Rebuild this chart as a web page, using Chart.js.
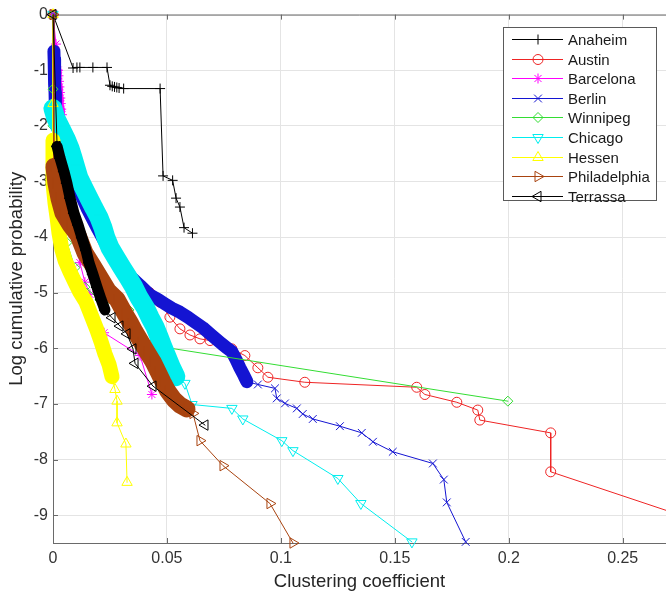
<!DOCTYPE html>
<html>
<head>
  <title>Clustering coefficient distribution</title>
  <script src="https://cdn.jsdelivr.net/npm/chart.js"></script>
  <style>
    body {
      margin: 0;
      background: #fff;
    }

    #chartContainer {
      width: 666px;
      height: 597px;
    }
  </style>
</head>
<body>
  <div id="chartContainer">
    <canvas id="myChart" width="666" height="597"></canvas>
  </div>

  <script>
    const cities = ['Anaheim', 'Austin', 'Barcelona', 'Berlin', 'Winnipeg', 'Chicago', 'Hessen', 'Philadelphia', 'Terrassa'];

    // [clustering coefficient, log cumulative probability]
    const anaheim = [[0, 0], [0.0088, -0.96], [0.0105, -0.95], [0.0118, -0.95], [0.0175, -0.95], [0.0237, -0.95],
      [0.025, -1.27], [0.026, -1.29], [0.027, -1.30], [0.028, -1.31], [0.029, -1.32], [0.031, -1.33], [0.047, -1.33],
      [0.0483, -2.9], [0.0525, -2.98], [0.054, -3.3], [0.0557, -3.46], [0.0575, -3.83], [0.0612, -3.93]];
    const austin = [[0, 0], [0.0005, -0.8], [0.0009, -1.4], [0.0048, -2.41], [0.011, -3.12], [0.0193, -3.83],
      [0.0272, -4.37], [0.0342, -4.72], [0.0425, -5.0], [0.0469, -5.17], [0.0513, -5.44], [0.0557, -5.65], [0.0601, -5.76],
      [0.0645, -5.83], [0.0689, -5.86], [0.0732, -5.88], [0.0785, -6.01], [0.0842, -6.13], [0.0899, -6.35], [0.0943, -6.52],
      [0.1105, -6.61], [0.1596, -6.70], [0.1632, -6.83], [0.1772, -6.97], [0.1864, -7.11], [0.1873, -7.29], [0.2184, -7.52],
      [0.2184, -8.22], [0.29, -9.2]];
    const barcelona = [[0, 0], [0.0013, -0.53], [0.0022, -1.0], [0.0024, -1.1], [0.0026, -1.2], [0.0028, -1.3], [0.003, -1.4],
      [0.0032, -1.5], [0.0034, -1.6], [0.0036, -1.7], [0.0039, -1.8], [0.0048, -2.32], [0.0061, -2.85], [0.0075, -3.39],
      [0.0092, -3.92], [0.0118, -4.46], [0.014, -4.81], [0.0162, -5.03], [0.0224, -5.72], [0.0382, -6.13], [0.0434, -6.83]];
    const berlin = [[0, 0], [0.0004, -0.66], [0.0005, -0.80], [0.0006, -0.95], [0.0007, -1.10], [0.0008, -1.25], [0.0009, -1.40],
      [0.001, -1.55], [0.0011, -1.70], [0.0022, -2.05], [0.0048, -2.41], [0.0075, -2.76], [0.011, -3.12], [0.0149, -3.48],
      [0.0193, -3.83], [0.0241, -4.19], [0.0272, -4.37], [0.0303, -4.55], [0.0342, -4.72], [0.0382, -4.87], [0.0425, -5.04],
      [0.0461, -5.12], [0.0491, -5.20], [0.0522, -5.28], [0.0557, -5.35], [0.0592, -5.44], [0.0623, -5.53], [0.0658, -5.63],
      [0.0689, -5.74], [0.0715, -5.83], [0.0741, -5.92], [0.0763, -5.99], [0.0785, -6.06], [0.0803, -6.20], [0.082, -6.35],
      [0.0838, -6.49], [0.0851, -6.60], [0.0899, -6.65], [0.0974, -6.72], [0.0982, -6.90], [0.1018, -6.99], [0.107, -7.08],
      [0.1096, -7.18], [0.114, -7.27], [0.1259, -7.40], [0.1355, -7.52], [0.1404, -7.68], [0.1491, -7.86], [0.1667, -8.07],
      [0.1715, -8.36], [0.1728, -8.77], [0.1811, -9.48]];
    const winnipeg = [[0, 0], [0, -1.34], [0, -2.0], [0.0009, -2.5], [0.0022, -3.03], [0.0039, -3.57], [0.0061, -4.10],
      [0.0096, -4.55], [0.014, -4.9], [0.0206, -5.13], [0.0333, -5.31], [0.0425, -5.94], [0.1996, -6.95]];
    const chicago = [[0, 0], [0, -1.69], [0.0013, -1.87], [0.0035, -2.05], [0.0057, -2.23], [0.0075, -2.41], [0.0088, -2.58],
      [0.0101, -2.76], [0.0114, -2.94], [0.0136, -3.12], [0.0158, -3.30], [0.018, -3.48], [0.0202, -3.65], [0.0219, -3.83],
      [0.0232, -4.01], [0.025, -4.19], [0.0276, -4.37], [0.0303, -4.55], [0.0329, -4.72], [0.0355, -4.90], [0.0377, -5.08],
      [0.0404, -5.26], [0.0425, -5.44], [0.0447, -5.61], [0.0465, -5.79], [0.0482, -5.97], [0.05, -6.15], [0.0518, -6.33],
      [0.0539, -6.51], [0.0579, -6.63], [0.061, -7.01], [0.0785, -7.08], [0.0833, -7.27], [0.1004, -7.66], [0.1053, -7.84],
      [0.125, -8.34], [0.1351, -8.79], [0.1575, -9.48]];
    const hessen = [[0, 0], [0, -1.6], [0, -2.26], [0, -2.67], [0, -3.03], [0.0009, -3.39], [0.0018, -3.65], [0.0026, -3.92],
      [0.0039, -4.22], [0.0053, -4.42], [0.0075, -4.63], [0.0096, -4.81], [0.0118, -4.99], [0.0145, -5.17], [0.0171, -5.44],
      [0.0193, -5.67], [0.0211, -5.88], [0.0228, -6.10], [0.0246, -6.29], [0.0259, -6.51], [0.0272, -6.74], [0.0281, -6.95],
      [0.0281, -7.34], [0.032, -7.72], [0.0325, -8.41]];
    const philadelphia = [[0, 0], [0.0004, -2.73], [0.0013, -3.03], [0.0026, -3.30], [0.0044, -3.57], [0.0075, -3.78],
      [0.011, -3.97], [0.014, -4.28], [0.0175, -4.51], [0.0206, -4.72], [0.0241, -4.96], [0.0281, -5.12], [0.0316, -5.38],
      [0.0342, -5.56], [0.036, -5.70], [0.0386, -5.88], [0.0412, -6.06], [0.0439, -6.24], [0.0461, -6.42], [0.0482, -6.60],
      [0.0504, -6.77], [0.0531, -6.92], [0.0557, -7.02], [0.0588, -7.09], [0.0614, -7.17], [0.0645, -7.66], [0.0746, -8.11],
      [0.0952, -8.79], [0.1053, -9.50]];
    const terrassa = [[0, 0], [0.0018, -2.37], [0.0031, -2.58], [0.0048, -2.82], [0.0061, -3.03], [0.0075, -3.30],
      [0.0092, -3.57], [0.011, -3.78], [0.0127, -4.01], [0.0145, -4.24], [0.0158, -4.46], [0.0175, -4.67], [0.0193, -4.90],
      [0.0211, -5.12], [0.0228, -5.31], [0.0259, -5.45], [0.0294, -5.60], [0.0325, -5.74], [0.0351, -6.01], [0.036, -6.27],
      [0.0439, -6.68], [0.0667, -7.38]];

    const xTickLabels = ['0', '0.05', '0.1', '0.15', '0.2', '0.25'];
    const yTickLabels = ['-9', '-8', '-7', '-6', '-5', '-4', '-3', '-2', '-1', '0'];

    const seriesData = [anaheim, austin, barcelona, berlin, winnipeg, chicago, hessen, philadelphia, terrassa];

    // band: range of point indexes where hundreds of overlapping markers merge into a solid stroke
    const styles = [
      { color: '#000000', pointStyle: 'cross', rotation: 0, radius: 5, band: [0, 0], bandWidth: 1 },
      { color: '#ee2424', pointStyle: 'circle', rotation: 0, radius: 5, band: [1, 9], bandWidth: 6 },
      { color: '#ff00ff', pointStyle: 'star', rotation: 0, radius: 5, band: [2, 10], bandWidth: 6 },
      { color: '#1414d2', pointStyle: 'crossRot', rotation: 0, radius: 5.5, band: [1, 36], bandWidth: 13 },
      { color: '#33dd33', pointStyle: 'rectRot', rotation: 0, radius: 5, band: [0, 0], bandWidth: 1 },
      { color: '#00eeee', pointStyle: 'triangle', rotation: 180, radius: 6, band: [1, 28], bandWidth: 19 },
      { color: '#ffff00', pointStyle: 'triangle', rotation: 0, radius: 6, band: [2, 19], bandWidth: 15 },
      { color: '#a8430f', pointStyle: 'triangle', rotation: 90, radius: 6, band: [1, 23], bandWidth: 17 },
      { color: '#000000', pointStyle: 'triangle', rotation: 270, radius: 6, band: [1, 14], bandWidth: 11 }
    ];

    Chart.defaults.font.family = '"Liberation Sans", Arial, sans-serif';

    const datasets = cities.map((name, i) => {
      const st = styles[i];
      return {
        label: name,
        data: seriesData[i].map(p => ({ x: p[0], y: p[1] })),
        borderColor: st.color,
        backgroundColor: st.color,
        pointBorderColor: st.color,
        pointBackgroundColor: 'rgba(0,0,0,0)',
        pointStyle: st.pointStyle,
        pointRotation: st.rotation,
        pointRadius: st.radius,
        pointBorderWidth: 1,
        borderWidth: 1,
        borderJoinStyle: 'round',
        borderCapStyle: 'round',
        fill: false,
        tension: 0,
        clip: false,
        segment: {
          borderWidth: c => (c.p0DataIndex >= st.band[0] && c.p1DataIndex <= st.band[1]) ? st.bandWidth : 1
        },
        // later series are drawn on top, like the original plot
        order: cities.length - 1 - i
      };
    });

    // box frame and inward tick marks
    const axesBox = {
      id: 'axesBox',
      beforeDatasetsDraw(chart) {
        const { ctx, chartArea: a, scales } = chart;
        ctx.save();
        ctx.strokeStyle = '#6a6a6a';
        ctx.lineWidth = 1;
        ctx.beginPath();
        ctx.moveTo(a.left, a.top + 0.5);
        ctx.lineTo(a.right, a.top + 0.5);
        scales.x.ticks.forEach(t => {
          const px = Math.round(scales.x.getPixelForValue(t.value)) + 0.5;
          ctx.moveTo(px, a.bottom);
          ctx.lineTo(px, a.bottom - 5);
          ctx.moveTo(px, a.top);
          ctx.lineTo(px, a.top + 5);
        });
        scales.y.ticks.forEach(t => {
          const py = Math.round(scales.y.getPixelForValue(t.value)) + 0.5;
          ctx.moveTo(a.left, py);
          ctx.lineTo(a.left + 5, py);
        });
        ctx.stroke();
        ctx.restore();
      }
    };

    // legend drawn like the original: line with marker in its middle
    const lineLegend = {
      id: 'lineLegend',
      afterDraw(chart) {
        const ctx = chart.ctx;
        const left = 503, top = 27, width = 153, height = 173;
        ctx.save();
        ctx.fillStyle = '#ffffff';
        ctx.fillRect(left, top, width, height);
        ctx.strokeStyle = '#5a5a5a';
        ctx.lineWidth = 1;
        ctx.strokeRect(left + 0.5, top + 0.5, width, height);
        ctx.font = '15px "Liberation Sans", Arial, sans-serif';
        ctx.textBaseline = 'middle';
        chart.data.datasets.forEach((ds, i) => {
          const y = Math.round(39 + i * 19.6) + 0.5;
          ctx.strokeStyle = ds.borderColor;
          ctx.lineWidth = 1;
          ctx.beginPath();
          ctx.moveTo(512, y);
          ctx.lineTo(563, y);
          ctx.stroke();
          ctx.fillStyle = 'rgba(0,0,0,0)';
          Chart.helpers.drawPoint(ctx, {
            pointStyle: ds.pointStyle,
            rotation: ds.pointRotation,
            radius: ds.pointRadius,
            borderWidth: 1
          }, 538, y);
          ctx.fillStyle = '#1a1a1a';
          ctx.fillText(ds.label, 568, y + 1);
        });
        ctx.restore();
      }
    };

    const ctx = document.getElementById('myChart').getContext('2d');
    new Chart(ctx, {
      type: 'line',
      data: { datasets: datasets },
      plugins: [axesBox, lineLegend],
      options: {
        responsive: false,
        devicePixelRatio: 1,
        animation: false,
        layout: { autoPadding: false, padding: { top: 10, right: 0, left: 0, bottom: 0 } },
        plugins: {
          legend: { display: false },
          tooltip: { enabled: false }
        },
        scales: {
          x: {
            type: 'linear',
            min: 0,
            max: 0.269,
            afterFit: s => { s.height = 54; },
            ticks: {
              stepSize: 0.05,
              includeBounds: false,
              autoSkip: false,
              maxRotation: 0,
              padding: 6,
              color: '#333333',
              font: { size: 16 },
              callback: (v, i) => xTickLabels[i]
            },
            grid: { color: '#e4e4e4', drawTicks: false },
            border: { color: '#6a6a6a' },
            title: {
              display: true,
              text: 'Clustering coefficient',
              color: '#262626',
              font: { size: 18.5 },
              padding: { top: 0, bottom: 4 }
            }
          },
          y: {
            type: 'linear',
            min: -9.5,
            max: 0,
            afterFit: s => { s.width = 53; },
            ticks: {
              stepSize: 1,
              includeBounds: false,
              padding: 5,
              color: '#333333',
              font: { size: 16 },
              callback: (v, i) => yTickLabels[i]
            },
            grid: { color: '#e4e4e4', drawTicks: false },
            border: { color: '#6a6a6a' },
            title: {
              display: true,
              text: 'Log cumulative probability',
              color: '#262626',
              font: { size: 18.5 },
              padding: { top: 6, bottom: 0 }
            }
          }
        }
      }
    });
  </script>
</body>
</html>
